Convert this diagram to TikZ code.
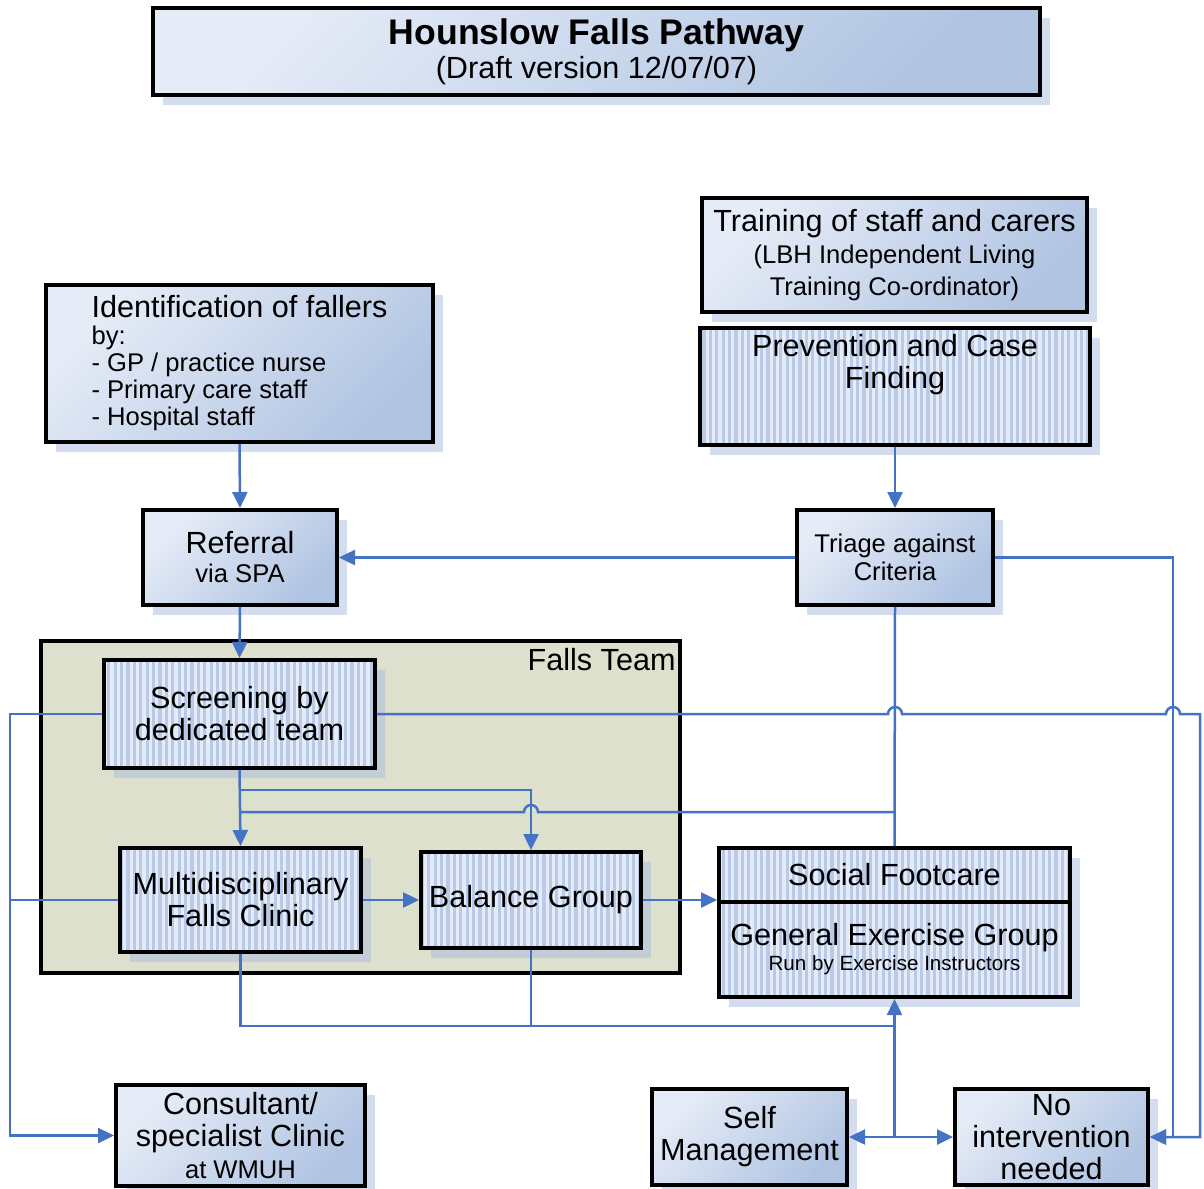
\documentclass[tikz,border=0pt]{standalone}
\usepackage{fontspec}
\setmainfont{Liberation Sans}
\usetikzlibrary{arrows.meta,calc,shadows,patterns.meta}

\definecolor{pathblue}{RGB}{68,114,196}
\definecolor{gradlight}{RGB}{230,236,247}
\definecolor{graddark}{RGB}{176,196,226}
\definecolor{stripelight}{RGB}{229,236,248}
\definecolor{stripedark}{RGB}{184,202,232}
\definecolor{teamgreen}{RGB}{221,224,204}
\definecolor{shadowblue}{RGB}{168,188,224}

\newcommand{\maintxt}{\fontsize{15.3}{16}\selectfont}
\newcommand{\smalltxt}{\fontsize{12.8}{14}\selectfont}
\newcommand{\tinytxt}{\fontsize{10.3}{12}\selectfont}
\newcommand{\titletxt}{\fontsize{17.8}{18}\selectfont\bfseries}

\begin{document}
\begin{tikzpicture}[x=0.5pt,y=-0.5pt]

%
% Styles
%
\tikzstyle{box} = [rectangle,draw=black,line width=2pt,inner sep=2pt,align=center,font=\maintxt,
  general shadow={shadow xshift=5pt,shadow yshift=-5pt,fill=shadowblue,opacity=0.5},
  top color=gradlight,bottom color=graddark,shading angle=45]
\tikzstyle{hatchbox} = [rectangle,draw=black,line width=2pt,inner sep=2pt,align=center,font=\maintxt,
  general shadow={shadow xshift=5pt,shadow yshift=-5pt,fill=shadowblue,opacity=0.5},
  preaction={fill=stripelight},pattern={Lines[angle=90,distance=3.2pt,line width=1.6pt]},pattern color=stripedark]
\tikzstyle{team} = [rectangle,draw=black,line width=2pt,fill=teamgreen]
\tikzstyle{flowline} = [draw=pathblue,line width=1.25pt]
\tikzstyle{flowarrow} = [flowline,-{Triangle[length=8pt,width=7.5pt]}]

\useasboundingbox (0,0) rectangle (1204,1188);

\node[box,minimum width=443.5pt,minimum height=43.5pt] (title) at (596.5,51.5)
  {{\titletxt Hounslow Falls Pathway}\\[1pt](Draft version 12/07/07)};

\node[box,minimum width=192.5pt,minimum height=57pt] (train) at (894.5,255)
  {Training of staff and carers\\ \smalltxt (LBH Independent Living\\ \smalltxt Training Co-ordinator)};
\node[hatchbox,minimum width=195pt,inner sep=3pt] (prev) at (895,386.5)
  {\parbox[c][52.5pt][t]{185pt}{\centering Prevention and Case\\Finding}};
\node[box,minimum width=193.5pt,minimum height=78.5pt,align=left,font=\fontsize{15.3}{13.5}\selectfont] (ident) at (239.5,363.5)
  {Identification of fallers\\ \smalltxt by:\\ \smalltxt - GP / practice nurse\\ \smalltxt - Primary care staff\\ \smalltxt - Hospital staff};

\node[box,minimum width=97pt,minimum height=47.5pt,font=\fontsize{15.3}{14.5}\selectfont] (refer) at (240,557.5)
  {Referral\\ \smalltxt via SPA};
\node[box,minimum width=98pt,minimum height=47.5pt,font=\smalltxt] (triage) at (895,557.5) {Triage against\\Criteria};

% falls team
\node[team,minimum width=319.5pt,minimum height=166pt] (team) at (360.5,807) {};
\node[anchor=north east,inner sep=3pt,font=\maintxt] (teamlabel) at ($(team.north east)+(0,3)$) {Falls Team};

\node[hatchbox,minimum width=135.5pt,minimum height=54pt] (screen) at (239.5,714) {Screening by\\dedicated team};
\node[hatchbox,minimum width=120.5pt,minimum height=52pt] (multi) at (240.5,900) {Multidisciplinary\\Falls Clinic};
\node[hatchbox,minimum width=110pt,minimum height=48pt] (balance) at (531,900) {Balance Group};

\node[hatchbox,minimum width=175.5pt,minimum height=27pt] (social) at (894.5,875) {Social Footcare};
\node[hatchbox,minimum width=175.5pt,minimum height=47.5pt,font=\fontsize{15.3}{12.5}\selectfont] (general) at (894.5,949.5)
  {General Exercise Group\\ \tinytxt Run by Exercise Instructors};

\node[box,minimum width=124.5pt,minimum height=50.5pt] (consult) at (240.5,1135.5)
  {Consultant/\\specialist Clinic\\ \smalltxt at WMUH};
\node[box,minimum width=97.5pt,minimum height=48pt] (selfm) at (749.5,1137) {Self\\Management};
\node[box,minimum width=96.5pt,minimum height=48pt,inner sep=0pt] (noint) at (1051.5,1137) {No\\intervention\\needed};

% routing points
\coordinate (lft) at ($(screen.west)+(-92,0)$);
\coordinate (rgt) at ($(triage.east)+(178,0)$);
\coordinate (far) at ($(screen.east)+(823,0)$);
\coordinate (split1) at ($(screen.south)+(0,20)$);
\coordinate (split2) at ($(screen.south)+(0,42)$);
\coordinate (base) at ($(multi.south)+(0,72)$);
\coordinate (fork) at (general.south |- selfm.east);

\draw[flowarrow] (ident.south) -- (refer.north);
\draw[flowarrow] (prev.south) -- (triage.north);
\draw[flowarrow] (triage.west) -- (refer.east);
\draw[flowarrow] (triage.east) -- (rgt) |- (noint.east);
\draw[flowarrow] (refer.south) -- (screen.north);
\draw[flowarrow] (screen.west) -- (lft) |- (consult.west);
\draw[flowarrow] (screen.east) -- ($(triage.south |- screen.east)+(-7,0)$) arc[start angle=180,end angle=360,radius=7]
  -- ($(rgt |- screen.east)+(-7,0)$) arc[start angle=180,end angle=360,radius=7] -- (far) |- (noint.east);
\draw[flowarrow] (screen.south) -- (multi.north);
\draw[flowarrow] (split1) -| (balance.north);
\draw[flowline] (split2) -- ($(balance.north |- split2)+(-7,0)$) arc[start angle=180,end angle=360,radius=7]
  -- (triage.south |- split2);
\draw[flowline] (triage.south) -- (social.north);
\draw[flowline] (multi.west) -- (multi.west -| lft);
\draw[flowarrow] (multi.east) -- (balance.west);
\draw[flowarrow] (balance.east) -- (balance.east -| social.west);
\draw[flowarrow] (multi.south) -- (base) -| (general.south);
\draw[flowline] (balance.south) -- (balance.south |- base);
\draw[flowarrow] (general.south |- base) -- (fork) -- (selfm.east);
\draw[flowarrow] (fork) -- (noint.west);

\end{tikzpicture}
\end{document}
